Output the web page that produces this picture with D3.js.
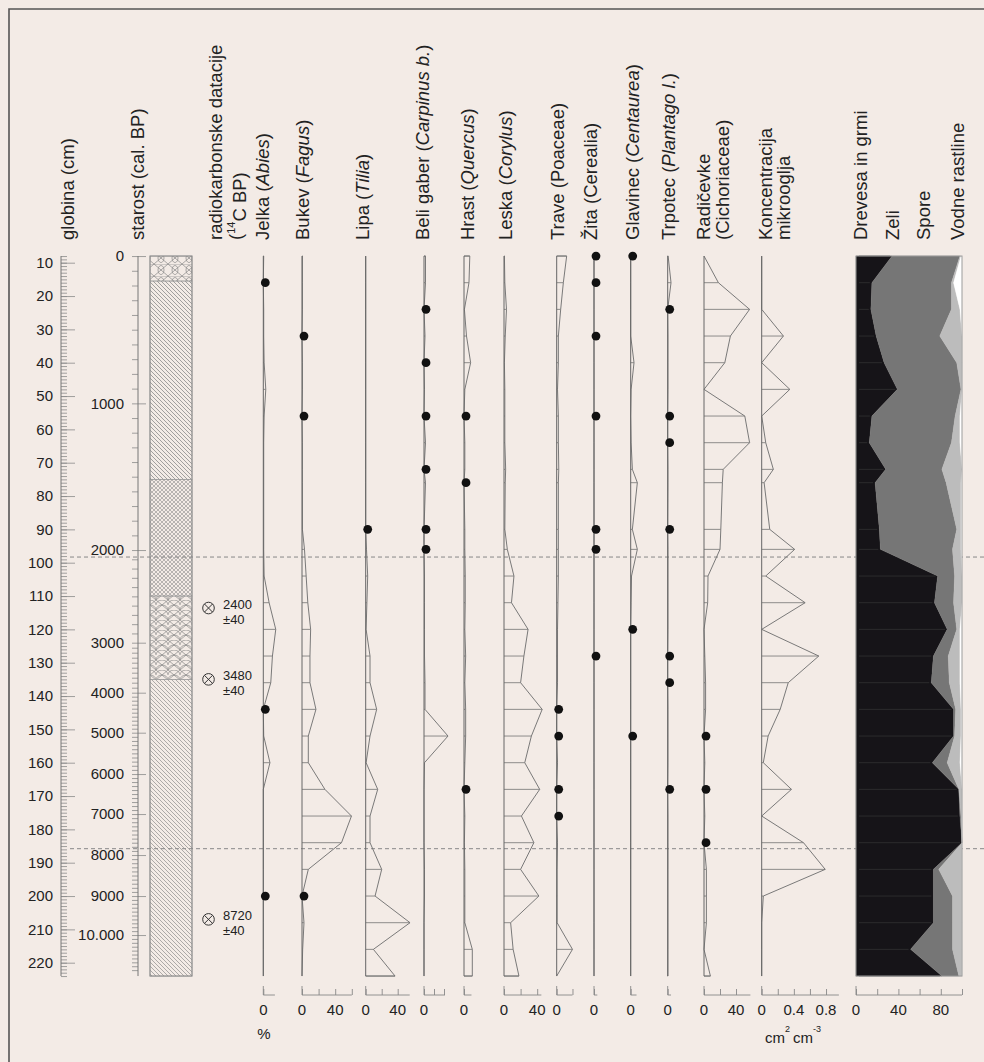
<!DOCTYPE html>
<html><head><meta charset="utf-8">
<script src="https://cdn.jsdelivr.net/npm/d3@7"></script>
<style>
body{margin:0;background:#f3ebe6;}
svg{display:block;}
text{font-family:"Liberation Sans",Arial,sans-serif;fill:#222;}
</style></head><body><svg id="c" width="984" height="1062"></svg>
<script>
// ---------- DATA ----------
const depths = [8,16,24,32,40,48,56,64,72,76,90,96,104,112,120,128,136,144,152,160,168,176,184,192,200,208,216,224];

const jelka     = [0.5,0,0.5,0.5,1,3,1,0.5,0.5,0.5,0.5,0.5,1,7,15,11,9,0,0.5,8,0,0,0,0,0,0,0,0];
const bukev     = [0.5,0.5,0.5,0,0.5,0.5,0,0.5,0.5,0.5,0.5,3,5,7,10.4,9.6,9.6,16.8,7.6,7.6,27.6,59.6,47.6,7.6,0,2.4,0.8,0];
const lipa      = [0,0,0,0,0,0,0,0,0,0,0,1,2.5,1.5,0.5,5.4,5.4,13.7,5.4,0.5,15,5.4,5.4,20,11.7,55.4,9.6,36.7];
const beliGaber = [1.5,1.5,0,1,0,0.5,0,1.5,0,1.5,0,0,0.5,0.5,0.5,0.5,1,1,24,0.5,0,0,0,0.5,0.5,0,0,0];
const hrast     = [7,6,0.5,3,8,1,0,1,1,0,1,1,1.5,1.5,1,2,1,2,2,1,0,1,0.5,1,1,1,10,10];
const leska     = [0.5,1,3,1.5,0.5,1,1,1,2,1.5,1,4,12,9,29,24,20,46,33,25,43,21,36,20,42,8,11,18];
const trave     = [12,8,4.8,2,2,1,2,2,2.5,2,2,2,2,1.5,1,1,1,0,0,1,0,0,1,0.5,0.5,0.5,19,0];
const zita      = [0,0,0,0,0,0,0,0,0,0,0,0,0,0,0,0,0,0,0,0,0,0,0,0,0,0,0,0];
const glavinec  = [0,0,0,0,4,0.5,0,0.5,2,8,2,8,1,0.5,0,0,0,0,0,0,0,0,0,0,0,0,0,0];
const trpotec   = [0.5,4,0,0.3,0.3,0.3,0,0,0.3,0.3,0,0.3,0.3,0.3,0.3,0,0,0.3,0.3,0.3,0,0.3,0.3,0.3,0.3,0.3,0.3,0.3];
const radicevke = [0,18,57,33,26,0,51,57,24,23,21,20,5,4.6,0,1,2,2,0,1,0,1,0,3,3,3,0,8];
const koncentracija = [0,0,0,0.27,0,0.35,0,0.05,0.145,0.03,0.1,0.41,0.05,0.54,0,0.71,0.33,0.23,0.08,0.02,0.37,0,0.52,0.79,0.02,0,0,0];

// presence dots (depth, cm)
const jelkaDots = [16,144,200];
const bukevDots = [32,56,200];
const lipaDots = [90];
const beliGaberDots = [24,40,56,72,90,96];
const hrastDots = [56,76,168];
const traveDots = [144,152,168,176];
const zitaDots = [8,16,32,56,90,96,128];
const glavinecDots = [8,120,152];
const trpotecDots = [24,56,64,90,128,136,168];
const radicevkeDots = [152,168,184];

// summary diagram (%)
const drevesa = [34,15,14,19,26.5,39,15,12.5,28,18,22,23,77,74,86,73,71,92,92,72,97,98,100,73,73,73,51.5,81];
const zeli    = [64,75,76,60,68.5,60,78.5,77.5,53,67,73,68,16,18,9,14,17,2,1,14,0,1,0,5,18,18,39.5,16];
const spore   = [1,2,8,21,5,1,4.5,8,19,14,4,8,7,8,3,11,10,5,6,12,3,1,0,22,9,9,9,3];
const vodne   = [1,8,2,0,0,0,2,2,0,1,1,1,0,0,2,2,2,1,1,2,0,0,0,0,0,0,0,0];

// axes
const depthMajor = [10,20,30,40,50,60,70,80,90,100,110,120,130,140,150,160,170,180,190,200,210,220];
const ageMajor  = [0,1000,2000,3000,4000,5000,6000,7000,8000,9000,10000];
const ageLabels = ["0","1000","2000","3000","4000","5000","6000","7000","8000","9000","10.000"];
const ageDepth  = [8,52.2,96.2,124,139,151,163.4,175.4,187.7,200,211.7];
const dateDepths = [113.6,135,207];
const dateLabels = ["2400","3480","8720"];
const dateErrors = ["±40","±40","±40"];
const zoneDepths = [98.3,185.8];
const lithoBounds = [8,15.5,75,110,135,224];
const lithoTypes = ["circ","diag","cross","scale","diag2"];

// ---------- DRAW ----------
const FONT = '"Liberation Sans",Arial,sans-serif';
const svg = d3.select('#c');
const W=984,H=1062;
svg.append('rect').attr('width',W).attr('height',H).attr('fill','#f3ebe6');
svg.append('path').attr('d','M9,1062 V9 H984').attr('fill','none').attr('stroke','#555').attr('stroke-width',1.6);

const y = d3.scaleLinear().domain([10,220]).range([262.7,962.7]);
const yTop=y(8), yBot=y(224);
const LC = '#737373';

// defs patterns
const defs = svg.append('defs');
function pat(id,w,h,d,sw){
  const p = defs.append('pattern').attr('id',id).attr('patternUnits','userSpaceOnUse').attr('width',w).attr('height',h);
  p.append('path').attr('d',d).attr('stroke','#858585').attr('stroke-width',sw).attr('fill','none');
}
pat('diag',4,4,'M-1,-1L5,5M3,-1L5,1M-1,3L1,5',0.75);
pat('diag2',4,4,'M-1,-1L5,5M3,-1L5,1M-1,3L1,5',0.65);
pat('cross',4,4,'M-1,-1L5,5M3,-1L5,1M-1,3L1,5M5,-1L-1,5M1,-1L-1,1M5,3L3,5',0.55);
pat('circ',14,12,'M0,0L14,12M14,0L0,12M7,1.5a3,4.5 0 1,0 0.01,0M0,0h14',0.7);
pat('scale',12,10,'M0,0L12,10M12,0L0,10M0,5a6,5 0 0,1 12,0M0,10a6,5 0 0,1 12,0',0.7);

function styleAxis(g){
  g.selectAll('.domain').remove();
  g.selectAll('line').attr('stroke','#8a8a8a').attr('stroke-width',0.8);
  g.selectAll('text').attr('font-size',15).attr('fill','#222').style('font-family',FONT);
}

// depth axis: minor ruler, major ticks, labels (separate groups)
const gDm = svg.append('g').attr('transform','translate(61,0)');
gDm.call(d3.axisRight(y).tickValues(d3.range(8,225)).tickSize(6).tickFormat(''));
styleAxis(gDm);
const gDM = svg.append('g').attr('transform','translate(61,0)');
gDM.call(d3.axisRight(y).tickValues(depthMajor).tickSize(14).tickFormat(''));
styleAxis(gDM);
const gDL = svg.append('g').attr('transform','translate(61,0)');
gDL.call(d3.axisLeft(y).tickValues(depthMajor).tickSize(0).tickPadding(8).tickFormat(d3.format('d')));
styleAxis(gDL);
gDL.selectAll('text').attr('text-anchor','end');
svg.append('line').attr('x1',61).attr('x2',61).attr('y1',yTop).attr('y2',yBot).attr('stroke','#777');

// age axis
const ageY = d3.scaleLinear().domain(ageMajor).range(ageDepth.map(d=>y(d)));
const minorAges = d3.range(0,11001,100).filter(a=>a%1000!==0 && ageY(a)<=yBot+0.5);
const gA = svg.append('g').attr('transform','translate(138,0)');
gA.call(d3.axisLeft(ageY).tickValues(minorAges).tickSize(6).tickFormat(''));
styleAxis(gA);
const gA2 = svg.append('g').attr('transform','translate(146,0)');
gA2.call(d3.axisLeft(ageY).tickValues(ageMajor).tickSize(14).tickPadding(8).tickFormat((d,i)=>ageLabels[i]));
styleAxis(gA2);
svg.append('line').attr('x1',138).attr('x2',138).attr('y1',yTop).attr('y2',yBot).attr('stroke','#777');

// lithology
const gL = svg.append('g');
lithoTypes.forEach((t,i)=>{
  gL.append('rect').attr('x',150).attr('width',42).attr('y',y(lithoBounds[i])).attr('height',y(lithoBounds[i+1])-y(lithoBounds[i]))
    .attr('fill','url(#'+t+')').attr('stroke','#999').attr('stroke-width',0.6);
});
gL.append('rect').attr('x',150).attr('width',42).attr('y',yTop).attr('height',yBot-yTop).attr('fill','none').attr('stroke','#8a8a8a').attr('stroke-width',1);

// radiocarbon dates
dateDepths.forEach((d,i)=>{
  const cy = y(d);
  const g = svg.append('g');
  g.append('circle').attr('cx',208.5).attr('cy',cy).attr('r',5.8).attr('fill','none').attr('stroke','#333').attr('stroke-width',1);
  g.append('path').attr('d',`M${208.5-4.1},${cy-4.1}L${208.5+4.1},${cy+4.1}M${208.5+4.1},${cy-4.1}L${208.5-4.1},${cy+4.1}`).attr('stroke','#333').attr('stroke-width',1);
  g.append('text').attr('x',223).attr('y',cy+0.5).attr('font-size',13).text(dateLabels[i]);
  g.append('text').attr('x',223).attr('y',cy+15.5).attr('font-size',13).text(dateErrors[i]);
});

// zone lines
zoneDepths.forEach(d=>{
  svg.append('line').attr('x1',70).attr('x2',984).attr('y1',y(d)).attr('y2',y(d)).attr('stroke','#888').attr('stroke-width',1).attr('stroke-dasharray','4,3');
});

// pollen curve columns
const axisY = 995;
const cols = [
  {vals:jelka, dots:jelkaDots, x0:263.3, k:0.83, amax:14, ticks:[0], labs:[0]},
  {vals:bukev, dots:bukevDots, x0:302, k:0.83, amax:60, ticks:[0,20,40,60], labs:[0,40]},
  {vals:lipa, dots:lipaDots, x0:365.7, k:0.8, amax:55, ticks:[0,20,40], labs:[0,40]},
  {vals:beliGaber, dots:beliGaberDots, x0:424, k:1.0, amax:21, ticks:[0,10,20], labs:[0]},
  {vals:hrast, dots:hrastDots, x0:464, k:0.83, amax:9, ticks:[0], labs:[0]},
  {vals:leska, dots:[], x0:504, k:0.83, amax:45, ticks:[0,20,40], labs:[0,40]},
  {vals:trave, dots:traveDots, x0:556.7, k:0.83, amax:19, ticks:[0,19], labs:[0]},
  {vals:zita, dots:zitaDots, x0:594, k:0.83, amax:4, ticks:[0], labs:[0]},
  {vals:glavinec, dots:glavinecDots, x0:630.7, k:0.83, amax:7, ticks:[0], labs:[0]},
  {vals:trpotec, dots:trpotecDots, x0:667.7, k:0.83, amax:4, ticks:[0], labs:[0]},
  {vals:radicevke, dots:radicevkeDots, x0:704, k:0.8, amax:58, ticks:[0,20,40], labs:[0,40]},
  {vals:koncentracija, dots:[], x0:761.7, k:80.4, amax:0.96, ticks:[0,0.2,0.4,0.6,0.8], labs:[0,0.4,0.8]}
];
cols.forEach(c=>{
  const xs = d3.scaleLinear().domain([0,1]).range([c.x0,c.x0+c.k]);
  const g = svg.append('g');
  depths.forEach((d,i)=>{
    if(c.vals[i]>0) g.append('line').attr('x1',c.x0).attr('x2',xs(c.vals[i])).attr('y1',y(d)).attr('y2',y(d)).attr('stroke',LC).attr('stroke-width',0.8);
  });
  const pts = [[c.x0,y(depths[0])]].concat(depths.map((d,i)=>[xs(c.vals[i]),y(d)])).concat([[c.x0,y(depths[depths.length-1])]]);
  g.append('path').attr('d',d3.line()(pts)).attr('fill','none').attr('stroke',LC).attr('stroke-width',0.95);
  g.append('line').attr('x1',c.x0).attr('x2',c.x0).attr('y1',yTop).attr('y2',yBot).attr('stroke','#666').attr('stroke-width',1);
  c.dots.forEach(d=>{
    g.append('circle').attr('cx',c.x0+2).attr('cy',y(d)).attr('r',4.4).attr('fill','#111');
  });
  const ax = svg.append('g').attr('transform',`translate(0,${axisY})`);
  ax.call(d3.axisTop(xs).tickValues(c.ticks).tickSize(6).tickFormat(''));
  ax.selectAll('.domain').remove();
  ax.append('line').attr('x1',c.x0).attr('x2',xs(c.amax));
  ax.append('line').attr('x1',c.x0).attr('x2',c.x0).attr('y1',-9).attr('y2',0);
  ax.selectAll('line').attr('stroke','#888').attr('stroke-width',0.9);
  c.labs.forEach(v=>{
    ax.append('text').attr('x',xs(v)).attr('y',20).attr('text-anchor','middle').attr('font-size',15).text(String(v));
  });
});

// summary diagram
const cx = d3.scaleLinear().domain([0,100]).range([856,962]);
const rows = depths.map((d,i)=>({depth:d, drevesa:drevesa[i], zeli:zeli[i], spore:spore[i], vodne:vodne[i]}));
const stack = d3.stack().keys(['drevesa','zeli','spore','vodne'])(rows);
const fills = ['#161418','#767676','#bcbcbc','#ffffff'];
const area = d3.area().y(d=>y(d.data.depth)).x0(d=>cx(d[0])).x1(d=>cx(d[1]));
const gS = svg.append('g');
stack.forEach((s,i)=>gS.append('path').attr('d',area(s)).attr('fill',fills[i]).attr('stroke',fills[i]).attr('stroke-width',0.3));
depths.forEach((d,i)=>{
  gS.append('line').attr('x1',cx(0)+3).attr('x2',cx(drevesa[i])-2).attr('y1',y(d)).attr('y2',y(d)).attr('stroke','#3a3a3a').attr('stroke-width',1).attr('opacity',0.6);
});
gS.append('rect').attr('x',cx(0)).attr('y',yTop).attr('width',cx(100)-cx(0)).attr('height',yBot-yTop).attr('fill','none').attr('stroke','#9a9a9a').attr('stroke-width',1);
const axS = svg.append('g').attr('transform',`translate(0,${axisY})`);
axS.call(d3.axisTop(cx).tickValues([0,20,40,60,80,100]).tickSize(6).tickFormat(''));
axS.selectAll('.domain').remove();
axS.append('line').attr('x1',cx(0)).attr('x2',cx(100));
axS.append('line').attr('x1',cx(0)).attr('x2',cx(0)).attr('y1',-9).attr('y2',0);
axS.selectAll('line').attr('stroke','#888').attr('stroke-width',0.9);
[0,40,80].forEach(v=>axS.append('text').attr('x',cx(v)).attr('y',20).attr('text-anchor','middle').attr('font-size',15).text(v));

// unit labels
svg.append('text').attr('x',264).attr('y',1039).attr('text-anchor','middle').attr('font-size',15).text('%');
const u = svg.append('text').attr('x',765).attr('y',1043).attr('font-size',15);
u.append('tspan').text('cm');
u.append('tspan').attr('dy',-11).attr('font-size',9).text('2');
u.append('tspan').attr('dy',11).attr('dx',3).text('cm');
u.append('tspan').attr('dy',-11).attr('font-size',9).text('-3');

// header labels (rotated)
const headers = [
  {x:67, segs:[['globina (cm)',0]]},
  {x:137, segs:[['starost (cal. BP)',0]]},
  {x:215, segs:[['radiokarbonske datacije',0]]},
  {x:235, segs:[['(',0],['14',2],['C BP)',0]]},
  {x:262, segs:[['Jelka (',0],['Abies',1],[')',0]]},
  {x:302, segs:[['Bukev (',0],['Fagus',1],[')',0]]},
  {x:362, segs:[['Lipa (',0],['Tilia',1],[')',0]]},
  {x:422, segs:[['Beli gaber (',0],['Carpinus b.',1],[')',0]]},
  {x:467, segs:[['Hrast (',0],['Quercus',1],[')',0]]},
  {x:505, segs:[['Leska (',0],['Corylus',1],[')',0]]},
  {x:557, segs:[['Trave (Poaceae)',0]]},
  {x:590, segs:[['Žita (Cerealia)',0]]},
  {x:632, segs:[['Glavinec (',0],['Centaurea',1],[')',0]]},
  {x:668, segs:[['Trpotec (',0],['Plantago l.',1],[')',0]]},
  {x:703, segs:[['Radičevke',0]]},
  {x:722, segs:[['(Cichoriaceae)',0]]},
  {x:765, segs:[['Koncentracija',0]]},
  {x:783, segs:[['mikrooglja',0]]},
  {x:860, segs:[['Drevesa in grmi',0]]},
  {x:892, segs:[['Zeli',0]]},
  {x:923, segs:[['Spore',0]]},
  {x:957, segs:[['Vodne rastline',0]]}
];
headers.forEach(h=>{
  const t = svg.append('text').attr('transform',`translate(${h.x},240) rotate(-90)`).attr('dy','0.36em').attr('font-size',18.5)
    .style('font-family',FONT);
  h.segs.forEach((s,i)=>{
    const ts = t.append('tspan').text(s[0]);
    if(s[1]===1) ts.attr('font-style','italic');
    if(s[1]===2) ts.attr('font-size',11).attr('dy','-0.6em');
    if(i>0 && h.segs[i-1][1]===2) ts.attr('dy','0.6em');
  });
});
</script></body></html>
